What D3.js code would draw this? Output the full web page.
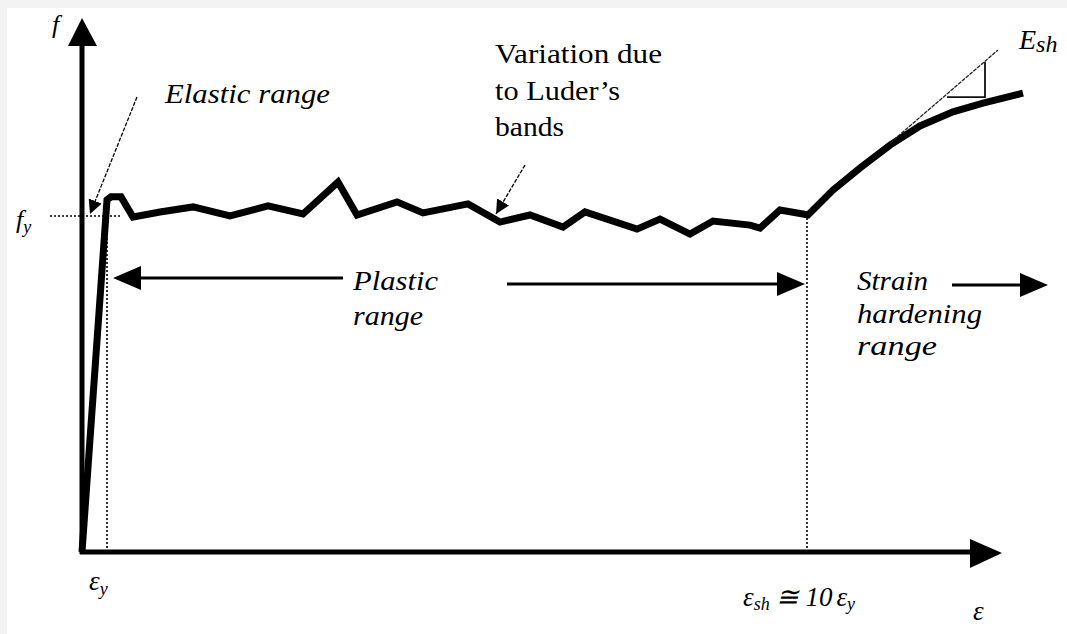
<!DOCTYPE html>
<html><head><meta charset="utf-8">
<script src="https://cdn.jsdelivr.net/npm/d3@7"></script>
<style>html,body{margin:0;padding:0;background:#f3f3f3;}svg{display:block;}</style>
</head><body>
<script>
// ---- data (strain in units of eps_y, stress in units of f_y) ----
const strain = [0, 1.0, 1.16, 1.56, 2.04, 3.12, 4.44, 5.92, 7.44, 8.84, 10.24, 11.0, 12.6, 13.64, 15.44, 16.72, 17.92, 19.24, 20.12, 22.2, 23.12, 24.32, 25.24, 26.72, 27.12, 27.92, 28.84, 29.04, 30.04, 31.12, 32.32, 33.52, 34.84, 36.04, 37.64];
const stress = [0, 1.048, 1.057, 1.057, 0.997, 1.012, 1.027, 1.0, 1.03, 1.006, 1.101, 1.003, 1.042, 1.009, 1.036, 0.982, 1.003, 0.967, 1.012, 0.961, 0.991, 0.946, 0.985, 0.973, 0.964, 1.018, 1.006, 1.003, 1.077, 1.143, 1.211, 1.268, 1.31, 1.336, 1.366];
const epsY = 1.0, epsSh = 29.0, fY = 1.0;
const tangentX = [32.32, 36.64], tangentY = [1.217, 1.494];
const triX = [34.6, 36.12, 36.12], triY = [1.354, 1.354, 1.458];
const axisMaxX = 36.8, axisMaxY = 1.589;

const W = 1067, H = 634;
const x = d3.scaleLinear().domain([0, 40]).range([82, 82 + 40 * 25]);
const y = d3.scaleLinear().domain([0, 1.6]).range([552, 552 - 1.6 * 336]);

const svg = d3.select("body").append("svg").attr("width", W).attr("height", H);
svg.append("rect").attr("x", 7).attr("y", 8).attr("width", W - 7).attr("height", H - 8).attr("fill", "#fff");

const defs = svg.append("defs");
defs.append("marker").attr("id", "ah").attr("viewBox", "0 0 10 10").attr("refX", 10).attr("refY", 5)
  .attr("markerWidth", 14).attr("markerHeight", 14).attr("markerUnits", "userSpaceOnUse").attr("orient", "auto")
  .append("path").attr("d", "M0,0 L10,5 L0,10 Z").attr("fill", "#000");

// dotted guide lines
const dot = {stroke: "#000", "stroke-width": 1.6, "stroke-dasharray": "2,2"};
function dl(x1, y1, x2, y2) {
  const l = svg.append("line").attr("x1", x1).attr("y1", y1).attr("x2", x2).attr("y2", y2);
  Object.entries(dot).forEach(([k, v]) => l.attr(k, v));
}
dl(50, y(fY), 120, y(fY));
dl(x(epsY), y(0), x(epsY), y(fY) + 2);
dl(x(epsSh), y(0), x(epsSh), y(fY) + 2);

// axes
svg.append("line").attr("x1", x(0)).attr("y1", y(0) + 2).attr("x2", x(0)).attr("y2", y(axisMaxY) + 20)
  .attr("stroke", "#000").attr("stroke-width", 5);
svg.append("path").attr("d", `M${x(0)},${y(axisMaxY)} L${x(0) - 14},${y(axisMaxY) + 28} L${x(0) + 15},${y(axisMaxY) + 28} Z`).attr("fill", "#000");
svg.append("line").attr("x1", x(0) - 2).attr("y1", y(0)).attr("x2", x(axisMaxX) - 20).attr("y2", y(0))
  .attr("stroke", "#000").attr("stroke-width", 5);
svg.append("path").attr("d", `M${x(axisMaxX)},${y(0) + 1} L${x(axisMaxX) - 32},${y(0) - 13} L${x(axisMaxX) - 32},${y(0) + 16} Z`).attr("fill", "#000");

// curve
const pts = strain.map((s, i) => [s, stress[i]]);
svg.append("path").datum(pts)
  .attr("d", d3.line().x(d => x(d[0])).y(d => y(d[1])))
  .attr("fill", "none").attr("stroke", "#000").attr("stroke-width", 7).attr("stroke-linejoin", "miter");

// tangent + slope triangle
svg.append("line").attr("x1", x(tangentX[0])).attr("y1", y(tangentY[0])).attr("x2", x(tangentX[1])).attr("y2", y(tangentY[1]))
  .attr("stroke", "#222").attr("stroke-width", 1.3).attr("stroke-dasharray", "4,1");
svg.append("path").attr("d", `M${x(triX[0])},${y(triY[0])} L${x(triX[1])},${y(triY[1])} L${x(triX[2])},${y(triY[2])}`)
  .attr("fill", "none").attr("stroke", "#111").attr("stroke-width", 1.8);

// annotation pointers
svg.append("line").attr("x1", 137).attr("y1", 97).attr("x2", 90).attr("y2", 214)
  .attr("stroke", "#000").attr("stroke-width", 1.3).attr("stroke-dasharray", "4,1.5").attr("marker-end", "url(#ah)");
svg.append("line").attr("x1", 525).attr("y1", 165).attr("x2", 496).attr("y2", 214)
  .attr("stroke", "#000").attr("stroke-width", 1.3).attr("stroke-dasharray", "4,1.5").attr("marker-end", "url(#ah)");

// range arrows
function harrow(x1, x2, yy) {
  const dir = Math.sign(x2 - x1);
  svg.append("line").attr("x1", x1).attr("y1", yy).attr("x2", x2 - dir * 26).attr("y2", yy).attr("stroke", "#000").attr("stroke-width", 3);
  svg.append("path").attr("d", `M${x2},${yy} L${x2 - dir * 28},${yy - 12} L${x2 - dir * 28},${yy + 12} Z`).attr("fill", "#000");
}
harrow(343, 113, 278);
harrow(507, 805, 284);
harrow(952, 1048, 285);

// texts
const serif = "'Liberation Serif','Times New Roman',serif";
function txt(str, tx, ty, size, italic, len) {
  const t = svg.append("text").attr("x", tx).attr("y", ty).attr("font-family", serif).attr("font-size", size)
    .attr("font-style", italic ? "italic" : "normal").attr("fill", "#000").text(str);
  if (len) t.attr("textLength", len).attr("lengthAdjust", "spacingAndGlyphs");
  return t;
}
txt("Elastic range", 165, 103, 27, true, 165);
txt("Variation due", 495, 63, 27, false, 167);
txt("to Luder\u2019s", 495, 100, 27, false, 125);
txt("bands", 495, 136, 27, false, 69);
txt("Plastic", 353, 290, 27, true, 85);
txt("range", 353, 325, 27, true, 70);
txt("Strain", 857, 290, 27, true, 71);
txt("hardening", 857, 323, 27, true, 125);
txt("range", 857, 355, 27, true, 80);

function sub(main, subs, tx, ty, size, subSize, dy) {
  const t = svg.append("text").attr("x", tx).attr("y", ty).attr("font-family", serif).attr("font-size", size)
    .attr("font-style", "italic").attr("fill", "#000");
  t.append("tspan").text(main);
  t.append("tspan").attr("font-size", subSize).attr("dy", dy).text(subs);
  return t;
}
txt("f", 52, 33, 26, true);
sub("f", "y", 16, 228, 26, 18, 5);
sub("\u03b5", "y", 89, 590, 27, 18, 5);
const t2 = svg.append("text").attr("x", 743).attr("y", 606).attr("font-family", serif).attr("font-size", 27)
  .attr("font-style", "italic").attr("fill", "#000");
t2.append("tspan").text("\u03b5");
t2.append("tspan").attr("font-size", 18).attr("dy", 4).text("sh");
t2.append("tspan").attr("dy", -4).attr("dx", 6).text("\u2245 10");
t2.append("tspan").attr("dx", 4).text("\u03b5");
t2.append("tspan").attr("font-size", 18).attr("dy", 4).text("y");
txt("\u03b5", 973, 620, 27, true);
sub("E", "sh", 1019, 49, 28, 24, 3);
</script>
</body></html>
